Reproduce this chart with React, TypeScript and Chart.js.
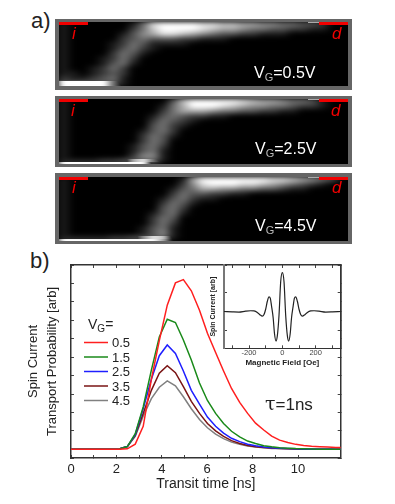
import React, { useEffect, useRef } from "react";
import { Chart, registerables } from "chart.js";

Chart.register(...registerables);

const sans = "'Liberation Sans', Arial, sans-serif";

// Panel a) intensity grids, top row first, one digit (0-9) per column
const panel05Rows = [
  "10000001489999887766554433200",
  "10000002479999876654433221100",
  "10000013568876543322111000000",
  "10000023433322111000000000000",
  "10000124311110000000000000000",
  "10000134210000000000000000000",
  "10000243100000000000000000000",
  "10001242000000000000000000000",
  "10001341000000000000000000000",
  "10012420000000000000000000000",
  "11012320000000000000000000000",
  "21123410000000000000000000000",
  "99999410000000000000000000000",
  "99999410000000000000000000000",
];
const panel25Rows = [
  "10000000000379999987665443100",
  "10000000001469998765544322100",
  "10000000002466654433221100000",
  "10000000013432211000000000000",
  "10000000024321000000000000000",
  "10000000034210000000000000000",
  "10000000134200000000000000000",
  "10000000243100000000000000000",
  "10000000243000000000000000000",
  "10000001342000000000000000000",
  "10000001341000000000000000000",
  "10000002551000000000000000000",
  "11112236841000000000000000000",
  "99999999930000000000000000000",
];
const panel45Rows = [
  "10000000000016999999988765430",
  "10000000000025899988765432100",
  "10000000000134665544332110000",
  "10000000000243322110000000000",
  "10000000001342110000000000000",
  "10000000002431000000000000000",
  "10000000003420000000000000000",
  "10000000013410000000000000000",
  "10000000024300000000000000000",
  "10000000024200000000000000000",
  "10000000134100000000000000000",
  "10000000135100000000000000000",
  "11111223587100000000000000000",
  "99999999996000000000000000000",
];
const rowHeights = [1, 1, 1, 1, 1, 1, 1, 1, 1, 1, 1, 1, 0.67, 0.33];

// Panel b) main curves
const transitTimes = [0, 1, 2.12, 2.48, 2.83, 3.18, 3.54, 3.89, 4.24, 4.6, 4.95, 5.3, 5.66, 6.01, 6.37, 6.72, 7.07, 7.43, 7.78, 8.13, 8.49, 8.84, 9.19, 9.55, 9.9, 10.25, 10.6, 10.96, 11.31, 11.67, 12];
const gate05 = [0, 0, 0, 0.03, 0.28, 1.25, 3.8, 5.9, 7.82, 9.03, 9.21, 8.6, 7.55, 6.3, 5.25, 4.25, 3.3, 2.55, 1.95, 1.42, 1.05, 0.72, 0.5, 0.37, 0.27, 0.21, 0.17, 0.14, 0.12, 0.1, 0.09];
const gate15 = [0, 0, 0.02, 0.15, 0.85, 2.3, 4.3, 6.1, 7.06, 6.88, 5.93, 4.85, 3.6, 2.65, 1.95, 1.4, 0.98, 0.68, 0.45, 0.32, 0.2, 0.14, 0.09, 0.06, 0.04, 0.03, 0.02, 0.01, 0.01, 0, 0];
const gate25 = [0, 0, 0.02, 0.15, 0.8, 2.2, 3.8, 5.08, 5.66, 5.2, 4.25, 3.2, 2.45, 1.75, 1.25, 0.88, 0.6, 0.42, 0.28, 0.19, 0.13, 0.09, 0.06, 0.04, 0.03, 0.02, 0.01, 0.01, 0, 0, 0];
const gate35 = [0, 0, 0.02, 0.15, 0.75, 1.95, 3.2, 4.13, 4.54, 4.16, 3.4, 2.6, 1.95, 1.4, 1.0, 0.7, 0.47, 0.32, 0.21, 0.14, 0.1, 0.07, 0.05, 0.03, 0.02, 0.01, 0.01, 0, 0, 0, 0];
const gate45 = [0, 0, 0.02, 0.15, 0.7, 1.8, 2.75, 3.37, 3.71, 3.44, 2.85, 2.2, 1.62, 1.17, 0.83, 0.58, 0.39, 0.27, 0.18, 0.12, 0.08, 0.05, 0.04, 0.03, 0.02, 0.01, 0.01, 0, 0, 0, 0];
const gateLabels = ["0.5", "1.5", "2.5", "3.5", "4.5"];
const gateSeries = [gate05, gate15, gate25, gate35, gate45];
const gateColors = ["#ff1f1f", "#1a8a1a", "#1f1fff", "#7a1414", "#808080"];

// Inset
const fieldOe = [-350, -300, -260, -220, -190, -170, -150, -135, -120, -110, -100, -90, -80, -72, -65, -55, -47, -38, -30, -20, -10, 0, 10, 20, 30, 38, 47, 55, 65, 72, 80, 90, 100, 110, 120, 135, 150, 170, 190, 220, 260, 300, 350];
const insetCurrent = [0, -0.02, -0.03, 0.02, 0.04, 0.03, -0.05, -0.17, -0.25, -0.16, 0.12, 0.55, 0.79, 0.7, 0.3, -0.35, -1.2, -1.59, -1.3, -0.2, 1.6, 2.09, 1.6, -0.2, -1.3, -1.59, -1.2, -0.35, 0.3, 0.7, 0.79, 0.55, 0.12, -0.16, -0.25, -0.17, -0.05, 0.03, 0.04, 0.02, -0.03, -0.02, 0];
const insetFieldTicks = [-300, -200, -100, 0, 100, 200, 300];
const insetFieldLabels = [-200, 0, 200];

const panels = [
  { rows: panel05Rows, gate: "0.5", boxTop: 19, boxH: 71, top: 22, h: 64, labelX: 254, labelY: 64, iX: 72, dX: 332, ilY: 25 },
  { rows: panel25Rows, gate: "2.5", boxTop: 96, boxH: 71, top: 99, h: 65, labelX: 255, labelY: 140, iX: 71, dX: 331, ilY: 102 },
  { rows: panel45Rows, gate: "4.5", boxTop: 173, boxH: 71, top: 177, h: 64, labelX: 255, labelY: 217, iX: 72, dX: 332, ilY: 179 },
];

function abs(left: number, top: number, extra: React.CSSProperties = {}): React.CSSProperties {
  return { position: "absolute", left, top, whiteSpace: "nowrap", ...extra };
}

// Bottom two rows hold the bright injector streak, which gets its own sharper layer.
function heatConfig(rows: string[], layer: "wide" | "streak"): any {
  const cols = Array.from(rows[0], (_, i) => String(i));
  const gray = (d: number) => {
    const v = Math.round((d / 9) * 255);
    return `rgb(${v},${v},${v})`;
  };
  const level = (d: number, r: number) => {
    const low = r >= rows.length - 2;
    if (layer === "wide") return low ? Math.min(d, 3) : d;
    return low && d >= 4 ? d : 0;
  };
  const datasets = rows
    .map((row, r) => ({
      data: cols.map(() => rowHeights[r]),
      backgroundColor: Array.from(row, (d) => gray(level(Number(d), r))),
      borderWidth: 0,
      barPercentage: 1,
      categoryPercentage: 1,
      stack: "s",
    }))
    .reverse();
  return {
    type: "bar",
    data: { labels: cols, datasets },
    options: {
      animation: false,
      responsive: false,
      layout: { padding: 0 },
      plugins: { legend: { display: false }, tooltip: { enabled: false } },
      scales: {
        x: { stacked: true, display: false },
        y: { stacked: true, display: false, min: 0, max: 13 },
      },
    },
  };
}

const legendPlugin = {
  id: "gateLegend",
  afterDatasetsDraw(chart: any) {
    const { ctx } = chart;
    ctx.save();
    chart.data.datasets.forEach((ds: any, i: number) => {
      const y = 342.5 + i * 14.5;
      ctx.strokeStyle = ds.borderColor;
      ctx.lineWidth = 1.5;
      ctx.beginPath();
      ctx.moveTo(84, y);
      ctx.lineTo(108, y);
      ctx.stroke();
      ctx.fillStyle = "#222";
      ctx.font = `13px ${sans}`;
      ctx.textBaseline = "middle";
      ctx.textAlign = "left";
      ctx.fillText(ds.label, 112, y + 1);
    });
    ctx.restore();
  },
};

const whitePlot = {
  id: "whitePlot",
  beforeDraw(chart: any) {
    const { ctx, chartArea: a } = chart;
    ctx.save();
    ctx.fillStyle = "#fff";
    ctx.fillRect(a.left, a.top, a.right - a.left, a.bottom - a.top);
    ctx.restore();
  },
};

function sideAxis(position: string, min: number, max: number, step: number, size: number, extra: any = {}) {
  const horizontal = position === "top" || position === "bottom";
  return {
    type: "linear",
    position,
    min,
    max,
    border: { display: true, color: "#333", width: 1.5 },
    grid: { drawOnChartArea: false, tickLength: -3, tickColor: "#444", tickWidth: 1 },
    ticks: { display: false, stepSize: step, autoSkip: false, maxRotation: 0 },
    afterFit(s: any) {
      if (horizontal) s.height = size;
      else s.width = size;
    },
    ...extra,
  };
}

function mainConfig(): any {
  return {
    type: "line",
    plugins: [legendPlugin],
    data: {
      datasets: gateSeries.map((vals, i) => ({
        label: gateLabels[i],
        data: vals.map((y, j) => ({ x: transitTimes[j], y })),
        borderColor: gateColors[i],
        borderWidth: 1.5,
        pointRadius: 0,
        tension: 0,
        xAxisID: "x",
        yAxisID: "y",
      })),
    },
    options: {
      animation: false,
      responsive: false,
      layout: { padding: { left: 0, top: 265, right: 54.3, bottom: 11 } },
      plugins: { legend: { display: false }, tooltip: { enabled: false } },
      scales: {
        x: sideAxis("bottom", 0, 11.88, 1, 35, {
          ticks: {
            display: true,
            stepSize: 1,
            autoSkip: false,
            maxRotation: 0,
            padding: 7,
            color: "#222",
            font: { family: sans, size: 13 },
            callback: (v: number) => (Number.isInteger(v) && v % 2 === 0 ? String(v) : ""),
          },
          title: { display: true, text: "Transit time [ns]", color: "#222", font: { family: sans, size: 14 }, padding: 0 },
        }),
        xTop: sideAxis("top", 0, 11.88, 1, 0),
        y: sideAxis("left", -0.47, 10, 1, 71, {
          title: {
            display: true,
            text: ["Spin Current", "Transport Probability [arb]"],
            color: "#222",
            font: { family: sans, size: 13, lineHeight: 1.46 },
            padding: { top: 24, bottom: 0 },
          },
        }),
        yRight: sideAxis("right", -0.47, 10, 1, 0),
      },
    },
  };
}

function insetConfig(): any {
  const tiny = { family: sans, size: 7.5 };
  const useFieldTicks = (s: any) => {
    s.ticks = insetFieldTicks.map((value) => ({ value }));
  };
  return {
    type: "line",
    plugins: [whitePlot],
    data: {
      datasets: [
        {
          data: fieldOe.map((x, i) => ({ x, y: insetCurrent[i] })),
          borderColor: "#222",
          borderWidth: 1.2,
          pointRadius: 0,
          cubicInterpolationMode: "monotone",
          xAxisID: "x",
          yAxisID: "y",
        },
      ],
    },
    options: {
      animation: false,
      responsive: false,
      layout: { padding: { left: 0, top: 10, right: 4.3, bottom: 2 } },
      plugins: { legend: { display: false }, tooltip: { enabled: false } },
      scales: {
        x: sideAxis("bottom", -350, 350, 100, 19.7, {
          afterBuildTicks: useFieldTicks,
          border: { display: true, color: "#333", width: 1 },
          ticks: {
            display: true,
            autoSkip: false,
            maxRotation: 0,
            padding: 3,
            color: "#444",
            font: tiny,
            callback: (v: number) => (insetFieldLabels.includes(v) ? String(v) : ""),
          },
          title: { display: true, text: "Magnetic Field [Oe]", color: "#222", font: { family: sans, size: 8, weight: "bold" }, padding: 0 },
        }),
        xTop: sideAxis("top", -350, 350, 100, 0, { afterBuildTicks: useFieldTicks }),
        y: sideAxis("left", -1.98, 2.5, 1, 29, {
          border: { display: true, color: "#777", width: 2 },
          title: {
            display: true,
            text: "Spin Current [arb]",
            color: "#222",
            font: { family: sans, size: 7, weight: "bold" },
            padding: { top: 14, bottom: 0 },
          },
        }),
        yRight: sideAxis("right", -1.98, 2.5, 1, 0),
      },
    },
  };
}

const red = "#f00000";

export default function App() {
  const wideRefs = [useRef<HTMLCanvasElement>(null), useRef<HTMLCanvasElement>(null), useRef<HTMLCanvasElement>(null)];
  const streakRefs = [useRef<HTMLCanvasElement>(null), useRef<HTMLCanvasElement>(null), useRef<HTMLCanvasElement>(null)];
  const mainRef = useRef<HTMLCanvasElement>(null);
  const insetRef = useRef<HTMLCanvasElement>(null);

  useEffect(() => {
    const charts = [
      ...panels.map((p, i) => new Chart(wideRefs[i].current!, heatConfig(p.rows, "wide"))),
      ...panels.map((p, i) => new Chart(streakRefs[i].current!, heatConfig(p.rows, "streak"))),
      new Chart(mainRef.current!, mainConfig()),
      new Chart(insetRef.current!, insetConfig()),
    ];
    return () => charts.forEach((c) => c.destroy());
  }, []);

  const text: React.CSSProperties = { fontFamily: sans, color: "#222" };
  const soft = "blur(0.3px)";

  return (
    <div style={{ position: "absolute", left: 0, top: 0, width: 395, height: 504, overflow: "hidden", background: "#fff" }}>
      <svg width="0" height="0" style={{ position: "absolute" }}>
        <filter id="heatWide" x="0" y="0" width="100%" height="100%" colorInterpolationFilters="sRGB">
          <feGaussianBlur stdDeviation="4.5 2.5" edgeMode="duplicate" />
        </filter>
        <filter id="heatStreak" x="0" y="0" width="100%" height="100%" colorInterpolationFilters="sRGB">
          <feGaussianBlur stdDeviation="3.5 0.4" edgeMode="duplicate" />
        </filter>
      </svg>

      <div style={abs(31, 8, { ...text, fontSize: 22 })}>a)</div>
      <div style={abs(30, 248, { ...text, fontSize: 22 })}>b)</div>

      {panels.map((p, i) => (
        <React.Fragment key={p.gate}>
          <div style={abs(55, p.boxTop, { width: 297, height: p.boxH, background: "#666" })} />
          <div style={abs(59, p.top, { width: 289, height: p.h, background: "#000", overflow: "hidden" })}>
            <canvas ref={wideRefs[i]} width={289} height={p.h} style={{ position: "absolute", left: 0, top: 0, display: "block", filter: "url(#heatWide)" }} />
            <canvas ref={streakRefs[i]} width={289} height={p.h} style={{ position: "absolute", left: 0, top: 0, display: "block", filter: "url(#heatStreak)", mixBlendMode: "lighten" }} />
          </div>
          <div style={abs(59, p.top, { width: 29, height: 3, background: red })} />
          <div style={abs(319, p.top, { width: 29, height: 3, background: red })} />
          <div style={abs(308, p.top, { width: 11, height: 1, background: "#aaa" })} />
          <div style={abs(p.iX, p.ilY - 1, { fontFamily: sans, fontStyle: "italic", fontSize: 17, color: red })}>i</div>
          <div style={abs(p.dX, p.ilY - 1, { fontFamily: sans, fontStyle: "italic", fontSize: 17, color: red })}>d</div>
          <div style={abs(p.labelX, p.labelY, { fontFamily: sans, fontSize: 16, color: "#fff" })}>
            V<sub style={{ fontSize: 11, verticalAlign: -3, color: "#bbb" }}>G</sub>={p.gate}V
          </div>
        </React.Fragment>
      ))}

      <canvas ref={mainRef} width={395} height={504} style={abs(0, 0, { display: "block", filter: soft })} />
      <canvas ref={insetRef} width={150} height={115} style={abs(195, 255, { display: "block", filter: soft })} />

      <div style={abs(88, 316, { ...text, fontSize: 14 })}>
        V<sub style={{ fontSize: 10, verticalAlign: -3 }}>G</sub>=
      </div>
      <div style={abs(265, 392, { ...text, fontSize: 17 })}>
        <span style={{ fontFamily: "'DejaVu Serif', serif", fontSize: 19 }}>τ</span>=1ns
      </div>
    </div>
  );
}
